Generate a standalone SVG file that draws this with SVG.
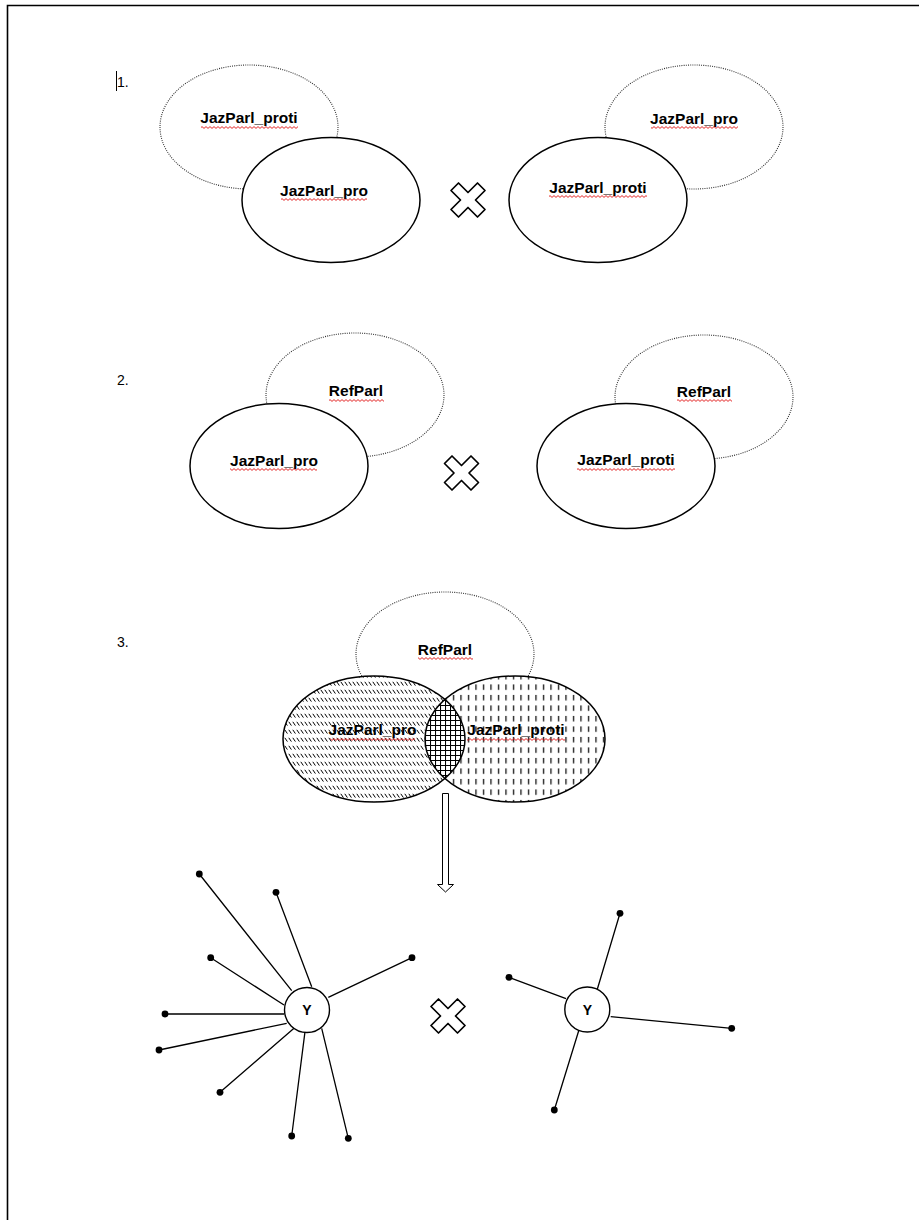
<svg xmlns="http://www.w3.org/2000/svg" xmlns:xlink="http://www.w3.org/1999/xlink" width="919" height="1220" viewBox="0 0 919 1220">
  <style>
    .dotted { fill: none; stroke: #333; stroke-width: 1.1; stroke-dasharray: 1 1.2; }
    .solid { fill: #fff; stroke: #000; stroke-width: 1.5; }
    .outline { fill: none; stroke: #000; stroke-width: 1.5; }
    .lbl { font-family: "Liberation Sans", Arial, sans-serif; font-weight: bold; font-size: 15.5px; fill: #000; text-anchor: middle; }
    .num { font-family: "Liberation Sans", Arial, sans-serif; font-size: 14px; fill: #000; }
    .ylbl { font-family: "Liberation Sans", Arial, sans-serif; font-weight: bold; font-size: 14px; fill: #000; text-anchor: middle; }
    .squig { fill: url(#wave); }
    .edge { stroke: #000; stroke-width: 1.3; fill: none; }
    .dot { fill: #000; }
    .cross { fill: #fff; stroke: #000; stroke-width: 1.7; stroke-linejoin: round; }
  </style>
  <defs>
    <!-- red wavy spell-check underline -->
    <pattern id="wave" width="4" height="3" patternUnits="userSpaceOnUse">
      <path d="M0 2.4 L2 0.6 L4 2.4" fill="none" stroke="#e01010" stroke-width="0.9"/>
    </pattern>
    <!-- short diagonal dashes -->
    <pattern id="diagHatch" width="4" height="8" patternUnits="userSpaceOnUse">
      <path d="M0.8 1.8 L3.4 5.6" stroke="#000" stroke-width="1"/>
    </pattern>
    <!-- short vertical dashes -->
    <pattern id="vertHatch" width="7.5" height="10.5" patternUnits="userSpaceOnUse">
      <path d="M3.5 2 V7.4" stroke="#000" stroke-width="1.2"/>
    </pattern>
    <!-- square grid -->
    <pattern id="gridHatch" width="5" height="5" patternUnits="userSpaceOnUse">
      <path d="M0 0.5 H5 M0.5 0 V5" stroke="#000" stroke-width="1.1"/>
    </pattern>
    <clipPath id="leftSet">
      <ellipse cx="374" cy="739" rx="91" ry="63"/>
    </clipPath>
    <!-- multiplication sign -->
    <polygon id="times" points="-17,-9.5 -9.5,-17 0,-7.5 9.5,-17 17,-9.5 7.5,0 17,9.5 9.5,17 0,7.5 -9.5,17 -17,9.5 -7.5,0"/>
  </defs>

  <!-- page border -->
  <path d="M7.5 1220 V5.5 H919" fill="none" stroke="#000" stroke-width="1.6"/>

  <!-- section numbers -->
  <g id="numbers">
    <line x1="116.5" y1="71" x2="116.5" y2="91" stroke="#000" stroke-width="1"/>
    <text class="num" x="117" y="87">1.</text>
    <text class="num" x="117" y="385">2.</text>
    <text class="num" x="117" y="647">3.</text>
  </g>

  <!-- ===== 1. ===== -->
  <g id="s1-left-proti">
    <ellipse class="dotted" cx="249" cy="127" rx="89" ry="62"/>
    <rect class="squig" x="201" y="126" width="97" height="3"/>
    <text class="lbl" x="249" y="123">JazParl_proti</text>
  </g>
  <g id="s1-left-pro">
    <ellipse class="solid" cx="331" cy="200" rx="89" ry="62.5"/>
    <rect class="squig" x="281" y="198" width="86" height="3"/>
    <text class="lbl" x="324" y="196">JazParl_pro</text>
  </g>
  <g id="s1-right-pro">
    <ellipse class="dotted" cx="694" cy="127" rx="89" ry="62"/>
    <rect class="squig" x="651" y="126" width="87" height="3"/>
    <text class="lbl" x="694" y="124">JazParl_pro</text>
  </g>
  <g id="s1-right-proti">
    <ellipse class="solid" cx="598" cy="200" rx="89" ry="62.5"/>
    <rect class="squig" x="549" y="195" width="98" height="3"/>
    <text class="lbl" x="598" y="193">JazParl_proti</text>
  </g>
  <use id="s1-times" xlink:href="#times" class="cross" transform="translate(468 200)"/>

  <!-- ===== 2. ===== -->
  <g id="s2-left-ref">
    <ellipse class="dotted" cx="355" cy="395" rx="89" ry="62"/>
    <rect class="squig" x="329" y="399" width="55" height="3"/>
    <text class="lbl" x="356" y="396">RefParl</text>
  </g>
  <g id="s2-left-pro">
    <ellipse class="solid" cx="279" cy="466" rx="89" ry="62.5"/>
    <rect class="squig" x="230" y="468" width="87" height="3"/>
    <text class="lbl" x="274" y="466">JazParl_pro</text>
  </g>
  <g id="s2-right-ref">
    <ellipse class="dotted" cx="704" cy="397" rx="89" ry="62"/>
    <rect class="squig" x="677" y="399" width="55" height="3"/>
    <text class="lbl" x="704" y="397">RefParl</text>
  </g>
  <g id="s2-right-proti">
    <ellipse class="solid" cx="626" cy="466" rx="89" ry="62.5"/>
    <rect class="squig" x="577" y="468" width="98" height="3"/>
    <text class="lbl" x="626" y="465">JazParl_proti</text>
  </g>
  <use id="s2-times" xlink:href="#times" class="cross" transform="translate(461.5 473)"/>

  <!-- ===== 3. ===== -->
  <g id="s3-ref">
    <ellipse class="dotted" cx="445" cy="654" rx="89" ry="62"/>
    <rect class="squig" x="418" y="657" width="55" height="3"/>
    <text class="lbl" x="445" y="655">RefParl</text>
  </g>
  <g id="s3-pro">
    <ellipse cx="374" cy="739" rx="91" ry="63" fill="#fff"/>
    <ellipse cx="374" cy="739" rx="91" ry="63" fill="url(#diagHatch)"/>
  </g>
  <g id="s3-proti">
    <ellipse cx="515" cy="739" rx="90" ry="63" fill="#fff"/>
    <ellipse cx="515" cy="739" rx="90" ry="63" fill="url(#vertHatch)"/>
  </g>
  <g id="s3-overlap" clip-path="url(#leftSet)">
    <ellipse cx="515" cy="739" rx="90" ry="63" fill="#fff"/>
    <ellipse cx="515" cy="739" rx="90" ry="63" fill="url(#gridHatch)"/>
  </g>
  <g id="s3-outlines">
    <ellipse class="outline" cx="374" cy="739" rx="91" ry="63"/>
    <ellipse class="outline" cx="515" cy="739" rx="90" ry="63"/>
  </g>
  <g id="s3-labels">
    <rect class="squig" x="330" y="738" width="85" height="3"/>
    <text class="lbl" x="372.5" y="735">JazParl_pro</text>
    <rect class="squig" x="467" y="738" width="98" height="3"/>
    <text class="lbl" x="516" y="735">JazParl_proti</text>
  </g>

  <!-- hollow down arrow -->
  <path id="down-arrow" d="M442.5 793.5 H448.5 V884.5 H453.5 L445.5 892 L437.5 884.5 H442.5 Z" fill="#fff" stroke="#000" stroke-width="1"/>

  <use id="s3-times" xlink:href="#times" class="cross" transform="translate(448 1016)"/>

  <!-- star graphs -->
  <g id="connectors">
    <path class="edge" d="M199.3 874 L291.7 990.7
      M276 892.3 L311.7 986.7
      M210.7 957.7 L284 1005
      M412 957.7 L328.3 997.3
      M165 1014 L284 1014
      M159 1050 L286.7 1023.3
      M220 1092.3 L294 1028.3
      M291.7 1136 L305 1031.7
      M348.3 1138.3 L321.7 1028.3"/>
    <path class="edge" d="M620 913.3 L597.3 989.3
      M509 977.3 L566 998.7
      M731.7 1028.3 L610.7 1016.7
      M554.3 1110 L578.7 1030.7"/>
  </g>
  <g id="leaves">
    <circle class="dot" cx="199.3" cy="874" r="3.4"/>
    <circle class="dot" cx="276" cy="892.3" r="3.4"/>
    <circle class="dot" cx="210.7" cy="957.7" r="3.4"/>
    <circle class="dot" cx="412" cy="957.7" r="3.4"/>
    <circle class="dot" cx="165" cy="1014" r="3.4"/>
    <circle class="dot" cx="159" cy="1050" r="3.4"/>
    <circle class="dot" cx="220" cy="1092.3" r="3.4"/>
    <circle class="dot" cx="291.7" cy="1136" r="3.4"/>
    <circle class="dot" cx="348.3" cy="1138.3" r="3.4"/>
    <circle class="dot" cx="620" cy="913.3" r="3.4"/>
    <circle class="dot" cx="509" cy="977.3" r="3.4"/>
    <circle class="dot" cx="731.7" cy="1028.3" r="3.4"/>
    <circle class="dot" cx="554.3" cy="1110" r="3.4"/>
  </g>
  <g id="hub-left">
    <circle cx="307" cy="1010" r="22.5" fill="#fff" stroke="#000" stroke-width="1.4"/>
    <text class="ylbl" x="307" y="1015">Y</text>
  </g>
  <g id="hub-right">
    <circle cx="587.3" cy="1009.5" r="22.5" fill="#fff" stroke="#000" stroke-width="1.4"/>
    <text class="ylbl" x="587.3" y="1014.5">Y</text>
  </g>
</svg>
